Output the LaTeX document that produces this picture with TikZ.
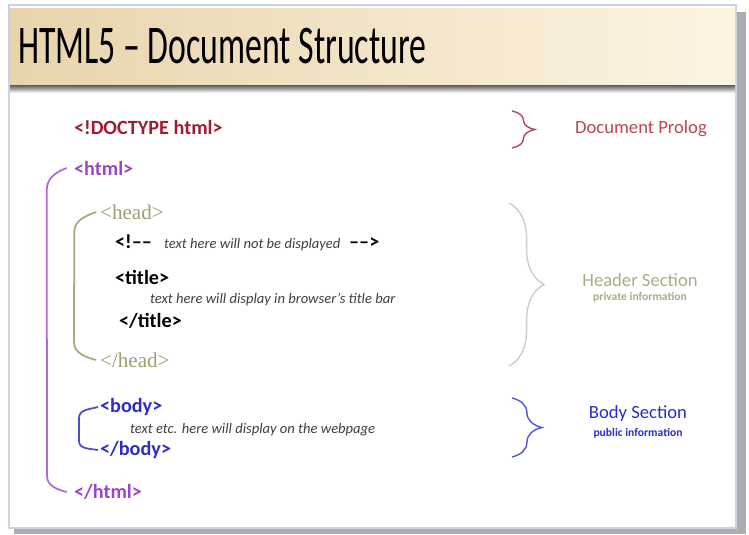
\documentclass[tikz,border=0pt]{standalone}
\usepackage{fontspec}
\setmainfont{Carlito}
\newfontfamily\tagserif{Liberation Serif}
\usetikzlibrary{positioning, decorations.pathreplacing, calc}

\definecolor{prologred}{RGB}{160,28,52}
\definecolor{prologtxt}{RGB}{190,70,80}
\definecolor{htmlpurple}{RGB}{155,70,195}
\definecolor{headolive}{RGB}{160,158,112}
\definecolor{headertxt}{RGB}{172,170,135}
\definecolor{bodyblue}{RGB}{45,45,200}
\definecolor{bracegrey}{RGB}{205,205,205}
\definecolor{bartanL}{RGB}{232,212,172}
\definecolor{bartanR}{RGB}{252,244,226}
\definecolor{slideedge}{RGB}{200,212,226}

\begin{document}
\begin{tikzpicture}[x=0.02cm,y=-0.02cm,
  tag/.style={anchor=west,inner sep=1pt,font=\fontsize{11.5}{13}\selectfont\bfseries},
  serifTag/.style={anchor=west,inner sep=1pt,font=\fontsize{12}{13}\selectfont\tagserif},
  note/.style={anchor=west,inner sep=1pt,text=black!75,font=\fontsize{8.3}{10}\selectfont\itshape},
  sect/.style={inner sep=1pt,font=\fontsize{10.6}{12}\selectfont},
  info/.style={inner sep=1pt,font=\fontsize{6.6}{8}\selectfont\bfseries},
  bracket/.style={line width=1pt},
  curly/.style={decorate,decoration={brace,amplitude=#1},line width=0.8pt}
]
  % slide frame and title bar
  \fill[white] (0,0) rectangle (749,534);
  \fill[black!32] (14,12) rectangle (746,534);
  \filldraw[fill=white,draw=slideedge,line width=1pt] (9,5) rectangle (736,528);
  \shade[left color=bartanL,right color=bartanR] (10,8) rectangle (735,85);
  \shade[top color=black!65,bottom color=white] (10,85) rectangle (735,93);
  \node[anchor=west,inner sep=0pt,xscale=0.62,font=\fontsize{31}{34}\selectfont,text=black](heading) at (18,46) {HTML5 – Document Structure};

  % markup on the left
  \node[tag,text=prologred](doctype) at (72,127) {<!DOCTYPE html>};
  \node[tag,text=htmlpurple](html)   at (72,168) {<html>};
  \node[serifTag,text=headolive](head) at (98,212) {<head>};
  \node[tag,text=black](comment)     at (113,243) {<!–{}–\hspace{7pt}{\fontsize{8.3}{10}\selectfont\mdseries\itshape\color{black!75}text here will not be displayed}\hspace{5pt}–{}–>};
  \node[tag,text=black](title)       at (113,277) {<title>};
  \node[note](titletext)             at (148,300) {text here will display in browser's title bar};
  \node[tag,text=black](titleend)    at (117,321) {</title>};
  \node[serifTag,text=headolive](headend) at (98,360) {</head>};
  \node[tag,text=bodyblue](body)     at (98,407) {<body>};
  \node[note](bodytext)              at (128,430) {text etc. here will display on the webpage};
  \node[tag,text=bodyblue](bodyend)  at (98,450) {</body>};
  \node[tag,text=htmlpurple](htmlend) at (72,492) {</html>};

  % sections on the right
  \node[sect,text=prologtxt](prolog) at (641,129) {Document Prolog};
  \node[sect,text=headertxt](header) at (640,280) {Header Section};
  \node[info,text=headertxt,below=1pt of header](headerinfo) {private information};
  \node[sect,text=bodyblue](bodysec) at (638,414) {Body Section};
  \node[info,text=bodyblue,below=1pt of bodysec](bodyinfo) {public information};

  % brackets
  \draw[bracket,htmlpurple!80] ([xshift=-3pt]html.west) to[out=200,in=90] ++(-20,22) -- ($(htmlend.west)+(-25,-16)$) to[out=-90,in=165] ([xshift=-3pt]htmlend.west);
  \draw[bracket,headolive!90] ([xshift=-1pt]head.west) to[out=200,in=90] ++(-22,20) -- ($(headend.west)+(-24,-18)$) to[out=-90,in=165] ([xshift=-1pt]headend.west);
  \draw[bracket,bodyblue!85] (body.west) to[out=195,in=90] ++(-19,11) -- ($(bodyend.west)+(-19,-9)$) to[out=-90,in=170] (bodyend.west);

  % braces
  \draw[curly=13pt,prologred!80] (512,111) -- (512,148);
  \draw[curly=20pt,bracegrey] (509,203) -- (509,366);
  \draw[curly=17pt,bodyblue!80] (512,398) -- (512,457);
\end{tikzpicture}
\end{document}
